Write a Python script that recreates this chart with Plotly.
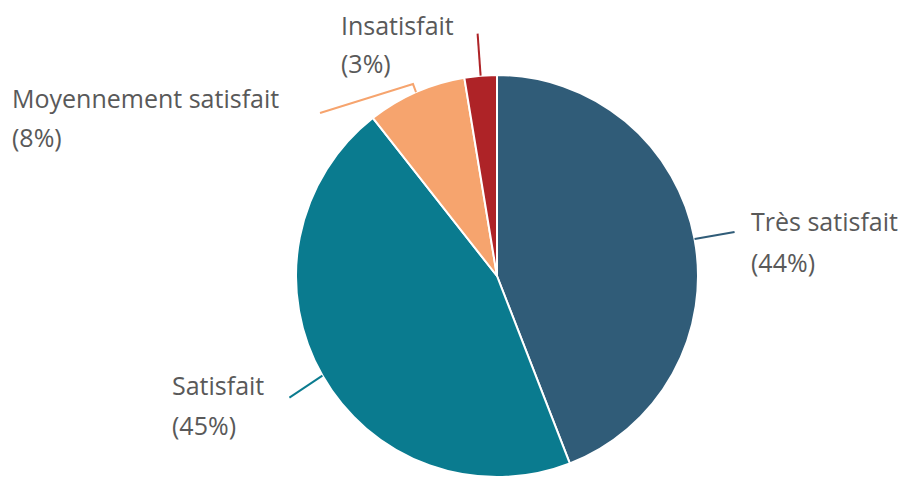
import math
import plotly.graph_objects as go

# ---- data ----
categories = ["Très satisfait", "Satisfait", "Moyennement satisfait", "Insatisfait"]
values = [44.1, 45.3, 8.0, 2.6]
pct_labels = ["(44%)", "(45%)", "(8%)", "(3%)"]

# ---- style ----
colors = ["#305C78", "#0A7B8F", "#F6A46E", "#AE2327"]
W, H = 914, 479
OFF = 8                             # default page body margin
FW, FH = W - OFF, H - OFF           # figure size
CX, CY, R = 497, 276, 201           # pie centre / radius in page px
FONT = "Open Sans"
FSIZE = 25
TXT = "#595959"

# leader-line path offsets (px, relative to slice edge at mid-angle)
leader_offsets = [
    [(40, -7)],
    [(-33, 22)],
    [(-3, -8), (-96, 21)],
    [(-3, -42)],
]
# label positions (left x, first-line centre y, second-line centre y) in page px
label_pos = [
    (749, 221, 262),
    (170, 385, 425),
    (10, 98, 137),
    (339, 25, 63),
]


def px(x):
    return (x - OFF) / FW


def py(y):
    return 1 - (y - OFF) / FH


fig = go.Figure(go.Pie(
    labels=categories,
    values=values,
    sort=False,
    direction="clockwise",
    rotation=0,
    marker=dict(colors=colors, line=dict(color="white", width=2)),
    textinfo="none",
    hoverinfo="label+percent",
    domain=dict(x=[px(CX - R), px(CX + R)], y=[py(CY + R), py(CY - R)]),
    showlegend=False,
))

total = sum(values)
cum = 0.0
shapes = []
annotations = []
for i, v in enumerate(values):
    mid = (cum + v / 2) / total * 2 * math.pi
    cum += v
    x0 = CX + R * math.sin(mid)
    y0 = CY - R * math.cos(mid)
    path = f"M {px(x0)},{py(y0)}"
    for dx, dy in leader_offsets[i]:
        path += f" L {px(x0 + dx)},{py(y0 + dy)}"
    shapes.append(dict(type="path", path=path, xref="paper", yref="paper",
                       line=dict(color=colors[i], width=2)))
    lx, ly1, ly2 = label_pos[i]
    for text, ly in ((categories[i], ly1), (pct_labels[i], ly2)):
        annotations.append(dict(
            text=text, x=px(lx), y=py(ly), xref="paper", yref="paper",
            xanchor="left", yanchor="middle", showarrow=False,
            font=dict(family=FONT, size=FSIZE, color=TXT),
        ))

fig.update_layout(
    width=FW, height=FH,
    margin=dict(l=0, r=0, t=0, b=0),
    paper_bgcolor="white",
    plot_bgcolor="white",
    shapes=shapes,
    annotations=annotations,
)

fig.write_html("out.html")
